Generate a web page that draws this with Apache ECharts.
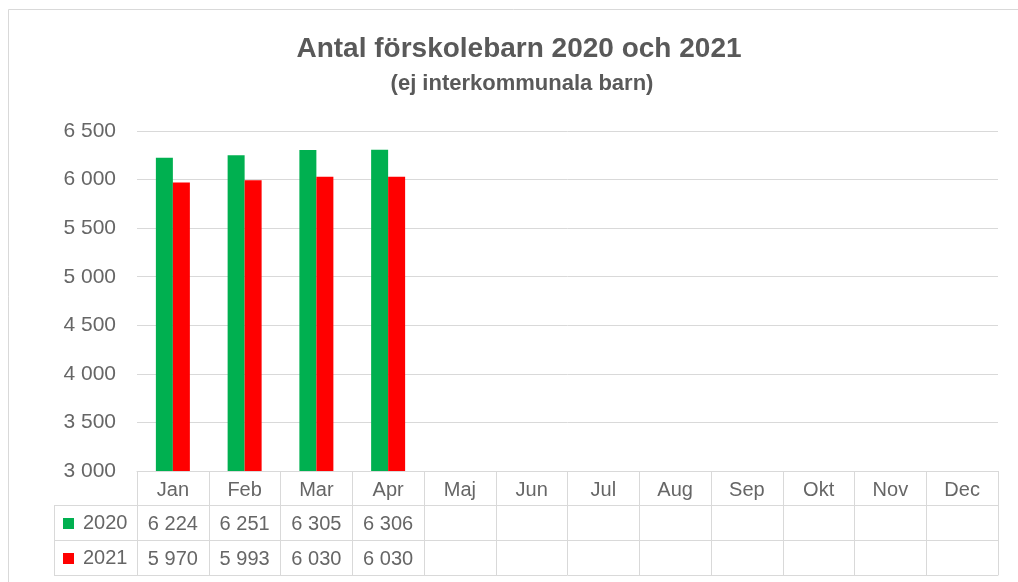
<!DOCTYPE html>
<html>
<head>
<meta charset="utf-8">
<script src="https://cdn.jsdelivr.net/npm/echarts@6/dist/echarts.min.js"></script>
<style>
  html, body { margin: 0; padding: 0; background: #fff; }
  #chart { width: 1018px; height: 582px; }
</style>
</head>
<body>
<div id="chart"></div>
<script>
// Months, and preschool headcounts per month
const months = ['Jan', 'Feb', 'Mar', 'Apr', 'Maj', 'Jun', 'Jul', 'Aug', 'Sep', 'Okt', 'Nov', 'Dec'];
const years = ['2020', '2021'];
const values2020 = [6224, 6251, 6305, 6306, null, null, null, null, null, null, null, null];
const values2021 = [5970, 5993, 6030, 6030, null, null, null, null, null, null, null, null];
const yTicks = { min: 3000, max: 6500, interval: 500 };

const colors = ['#00B050', '#FF0000'];
const titleColor = '#595959';
const textColor = '#666666';
const lineColor = '#D9D9D9';
const FONT = 'Liberation Sans';
const LABEL_SIZE = 20;

// Layout of plot area and the data table beneath it
const W = 1018, H = 582;
const GRID = { left: 137, right: 20, top: 131, bottom: 111 };
const HEADER_H = 34, ROW_H = 35;
const TABLE_LEFT = 54;

// Thousands separated by a space
function fmt(v) {
  if (v == null) return '';
  return String(v).replace(/\B(?=(\d{3})+(?!\d))/g, ' ');
}

const seriesValues = [values2020, values2021];

const chart = echarts.init(document.getElementById('chart'), null, { renderer: 'canvas' });

const baseAxis = {
  type: 'category',
  data: months,
  position: 'bottom',
  boundaryGap: true,
  axisLine: { show: true, lineStyle: { color: lineColor, width: 1 } },
  axisTick: { show: true, interval: 0, alignWithLabel: false, inside: false, lineStyle: { color: lineColor, width: 1 } },
  axisLabel: { interval: 0, color: textColor, fontFamily: FONT, fontSize: LABEL_SIZE },
  splitLine: { show: false }
};

const xAxes = [
  // Header row: month names
  Object.assign({}, baseAxis, {
    axisTick: Object.assign({}, baseAxis.axisTick, { length: HEADER_H }),
    axisLabel: Object.assign({}, baseAxis.axisLabel, { margin: 9 })
  }),
  // One row per year with its values
  ...seriesValues.map((vals, k) => Object.assign({}, baseAxis, {
    offset: HEADER_H + k * ROW_H,
    axisTick: Object.assign({}, baseAxis.axisTick, { length: ROW_H }),
    axisLabel: Object.assign({}, baseAxis.axisLabel, {
      margin: 9,
      formatter: (v, i) => fmt(vals[i])
    })
  })),
  // Bottom edge of the table
  Object.assign({}, baseAxis, {
    offset: HEADER_H + seriesValues.length * ROW_H,
    axisTick: { show: false },
    axisLabel: { show: false }
  })
];

// Left-hand column of the table: legend keys and year labels
const bottomY = H - GRID.bottom;
const tableGraphics = [];
for (let k = 0; k <= seriesValues.length; k++) {
  const y = bottomY + HEADER_H + k * ROW_H + 0.5;
  tableGraphics.push({
    type: 'line', silent: true,
    shape: { x1: TABLE_LEFT, y1: y, x2: GRID.left, y2: y },
    style: { stroke: lineColor, lineWidth: 1 }
  });
}
tableGraphics.push({
  type: 'line', silent: true,
  shape: { x1: TABLE_LEFT + 0.5, y1: bottomY + HEADER_H, x2: TABLE_LEFT + 0.5, y2: bottomY + HEADER_H + seriesValues.length * ROW_H + 1 },
  style: { stroke: lineColor, lineWidth: 1 }
});
years.forEach((yr, k) => {
  const cy = bottomY + HEADER_H + k * ROW_H + ROW_H / 2 + 1;
  tableGraphics.push({
    type: 'rect', silent: true,
    shape: { x: TABLE_LEFT + 9, y: cy - 5.5, width: 11, height: 11 },
    style: { fill: colors[k] }
  });
  tableGraphics.push({
    type: 'text', silent: true,
    x: TABLE_LEFT + 29, y: cy,
    style: { text: yr, fill: textColor, font: LABEL_SIZE + 'px ' + FONT, verticalAlign: 'middle', align: 'left' }
  });
});

// Chart frame
tableGraphics.push({
  type: 'rect', silent: true,
  shape: { x: 8.5, y: 9.5, width: W + 20, height: H + 20 },
  style: { fill: 'none', stroke: lineColor, lineWidth: 1 }
});

chart.setOption({
  animation: false,
  backgroundColor: '#fff',
  title: [
    {
      text: 'Antal förskolebarn 2020 och 2021',
      left: 519, top: 35, textAlign: 'center', padding: 0,
      textStyle: { color: titleColor, fontFamily: FONT, fontSize: 28, fontWeight: 'bold' }
    },
    {
      text: '(ej interkommunala barn)',
      left: 522, top: 73, textAlign: 'center', padding: 0,
      textStyle: { color: titleColor, fontFamily: FONT, fontSize: 22, fontWeight: 'bold' }
    }
  ],
  grid: { left: GRID.left, right: GRID.right, top: GRID.top, bottom: GRID.bottom, containLabel: false },
  xAxis: xAxes,
  yAxis: {
    type: 'value',
    min: yTicks.min, max: yTicks.max, interval: yTicks.interval,
    axisLine: { show: false },
    axisTick: { show: false },
    axisLabel: { color: textColor, fontFamily: FONT, fontSize: LABEL_SIZE + 1, margin: 21, formatter: v => fmt(v) },
    splitLine: { show: true, lineStyle: { color: lineColor, width: 1 } }
  },
  series: seriesValues.map((vals, k) => ({
    name: years[k],
    type: 'bar',
    xAxisIndex: 0,
    data: vals,
    barWidth: 17,
    barGap: '0%',
    itemStyle: { color: colors[k] }
  })),
  graphic: tableGraphics
});
</script>
</body>
</html>
